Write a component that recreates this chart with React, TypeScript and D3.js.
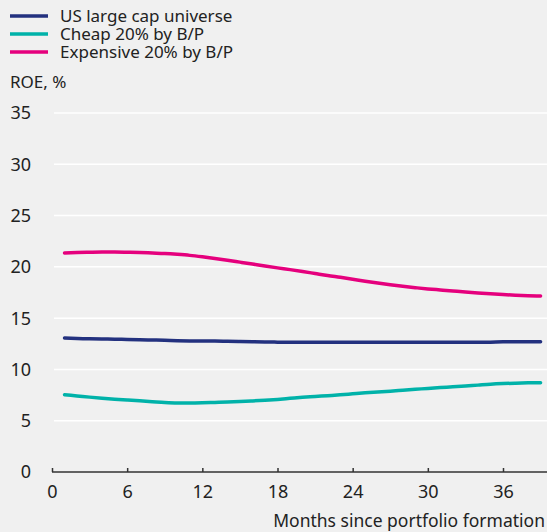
import React, { useEffect, useRef } from "react";
import * as d3 from "d3";

const months = d3.range(1, 40);

const universe = [
  13.06, 13.02, 12.98, 12.96, 12.95, 12.92, 12.9, 12.87, 12.84, 12.8, 12.78, 12.77, 12.76,
  12.74, 12.72, 12.7, 12.68, 12.66, 12.64, 12.64, 12.64, 12.64, 12.64, 12.64, 12.64, 12.64,
  12.64, 12.64, 12.64, 12.64, 12.64, 12.64, 12.64, 12.64, 12.66, 12.69, 12.7, 12.7, 12.7,
];
const cheap = [
  7.54, 7.42, 7.3, 7.19, 7.1, 7.02, 6.94, 6.86, 6.78, 6.73, 6.72, 6.74, 6.78, 6.82, 6.87,
  6.93, 7.0, 7.08, 7.18, 7.28, 7.36, 7.44, 7.52, 7.62, 7.72, 7.8, 7.88, 7.97, 8.06, 8.15,
  8.23, 8.3, 8.38, 8.47, 8.56, 8.62, 8.66, 8.69, 8.71,
];
const expensive = [
  21.35, 21.4, 21.43, 21.45, 21.45, 21.43, 21.4, 21.35, 21.3, 21.22, 21.12, 20.98, 20.82,
  20.65, 20.46, 20.27, 20.08, 19.9, 19.73, 19.55, 19.35, 19.15, 18.98, 18.8, 18.6, 18.42,
  18.25, 18.1, 17.97, 17.85, 17.75, 17.65, 17.55, 17.46, 17.38, 17.3, 17.24, 17.19, 17.16,
];

const seriesNames = ["US large cap universe", "Cheap 20% by B/P", "Expensive 20% by B/P"];
const seriesColors = ["#23317f", "#00b2a9", "#e5007d"];
const yTicks = [0, 5, 10, 15, 20, 25, 30, 35];
const xTicks = [0, 6, 12, 18, 24, 30, 36];

const font = "'Noto Sans', sans-serif";

const App = () => {
  const chartRef = useRef<SVGSVGElement | null>(null);

  useEffect(() => {
    if (!chartRef.current) return;
    const svg = d3.select(chartRef.current);
    svg.selectAll("*").remove();

    const width = 547;
    const height = 532;

    svg.append("rect").attr("width", width).attr("height", height).attr("fill", "#f0f0f0");

    const xScale = d3.scaleLinear().domain([0, 36]).range([52, 503]);
    const yScale = d3.scaleLinear().domain([0, 35]).range([472, 113]);

    // legend
    const legend = svg.append("g");
    seriesNames.forEach((name, i) => {
      const y = 16 + i * 18;
      legend
        .append("line")
        .attr("x1", 10)
        .attr("x2", 48)
        .attr("y1", y)
        .attr("y2", y)
        .attr("stroke", seriesColors[i])
        .attr("stroke-width", 3.5);
      legend
        .append("text")
        .attr("x", 60)
        .attr("y", y)
        .attr("dy", "0.36em")
        .attr("font-family", font)
        .attr("font-size", 17)
        .attr("fill", "#222")
        .text(name);
    });

    svg
      .append("text")
      .attr("x", 10)
      .attr("y", 82)
      .attr("dy", "0.36em")
      .attr("font-family", font)
      .attr("font-size", 17)
      .attr("fill", "#222")
      .text("ROE, %");

    // grid
    svg
      .append("g")
      .selectAll("line")
      .data(yTicks.filter((d) => d > 0))
      .enter()
      .append("line")
      .attr("x1", 54)
      .attr("x2", width)
      .attr("y1", (d) => yScale(d))
      .attr("y2", (d) => yScale(d))
      .attr("stroke", "#ffffff")
      .attr("stroke-width", 1.5);

    // y labels
    svg
      .append("g")
      .selectAll("text")
      .data(yTicks)
      .enter()
      .append("text")
      .attr("x", 31)
      .attr("y", (d) => yScale(d))
      .attr("dy", "0.36em")
      .attr("text-anchor", "end")
      .attr("font-family", font)
      .attr("font-size", 18)
      .attr("fill", "#222")
      .text((d) => d);

    // x axis
    const xAxis = svg
      .append("g")
      .attr("transform", `translate(0, ${yScale(0)})`)
      .call(d3.axisBottom(xScale).tickValues(xTicks).tickSize(-4).tickPadding(13))
      .attr("color", "#333");
    xAxis.select(".domain").attr("d", `M52,0H${width}`).attr("stroke-width", 1.5);
    xAxis.selectAll(".tick line").attr("stroke-width", 1.5);
    xAxis
      .selectAll(".tick text")
      .attr("font-family", font)
      .attr("font-size", 18)
      .attr("fill", "#222");

    svg
      .append("text")
      .attr("x", 545)
      .attr("y", 521)
      .attr("dy", "0.36em")
      .attr("text-anchor", "end")
      .attr("font-family", font)
      .attr("font-size", 17.5)
      .attr("fill", "#222")
      .text("Months since portfolio formation");

    // lines
    const line = d3
      .line<number>()
      .x((_, i) => xScale(months[i]))
      .y((d) => yScale(d))
      .curve(d3.curveMonotoneX);

    [universe, cheap, expensive].forEach((values, i) => {
      svg
        .append("path")
        .datum(values)
        .attr("fill", "none")
        .attr("stroke", seriesColors[i])
        .attr("stroke-width", 3.5)
        .attr("stroke-linecap", "round")
        .attr("d", line);
    });
  }, []);

  return (
    <div>
      <style>{`body{margin:0}`}</style>
      <svg ref={chartRef} width={547} height={532} style={{ display: "block" }}></svg>
    </div>
  );
};

export default App;
